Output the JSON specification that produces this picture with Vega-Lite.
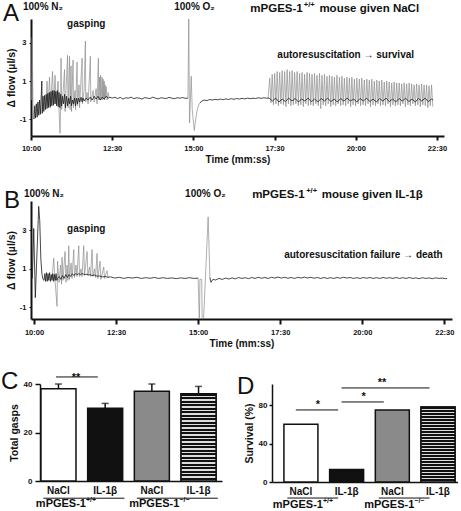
{
"$schema":"https://vega.github.io/schema/vega-lite/v6.json",
"background":"white",
"padding":{"left":1,"top":1,"right":0,"bottom":0},
"bounds":"flush",
"spacing":65,
"config":{
 "font":"Liberation Sans",
 "view":{"stroke":null},
 "axis":{"labelFont":"Liberation Sans","titleFont":"Liberation Sans","labelFontWeight":"bold","titleFontWeight":"bold","labelColor":"#111","titleColor":"#111","domainColor":"#111","tickColor":"#111","grid":false,"labelFlush":false,"labelOverlap":false},
 "text":{"font":"Liberation Sans","color":"#111"},
 "title":{"font":"Liberation Sans","color":"#111"}
},
"datasets":{
 "A_dark":[
  {"t":605.5,"v":-1.0,"s":"d1"},{"t":607.0,"v":-0.3,"s":"d1"},{"t":608.4,"v":-0.95,"s":"d1"},{"t":609.9,"v":-0.2,"s":"d1"},{"t":611.4,"v":-0.9,"s":"d1"},{"t":612.8,"v":-0.1,"s":"d1"},{"t":614.3,"v":-0.8,"s":"d1"},{"t":615.8,"v":0.0,"s":"d1"},{"t":617.3,"v":-0.75,"s":"d1"},{"t":618.7,"v":0.1,"s":"d1"},{"t":620.0,"v":1.0,"s":"d1"},{"t":620.7,"v":-0.7,"s":"d1"},{"t":622.2,"v":0.2,"s":"d1"},{"t":623.7,"v":-0.6,"s":"d1"},{"t":625.2,"v":0.25,"s":"d1"},{"t":626.6,"v":-0.5,"s":"d1"},{"t":628.1,"v":0.3,"s":"d1"},{"t":629.6,"v":-0.45,"s":"d1"},{"t":631.1,"v":0.35,"s":"d1"},{"t":632.6,"v":-0.4,"s":"d1"},{"t":634.0,"v":0.4,"s":"d1"},{"t":635.5,"v":-0.35,"s":"d1"},{"t":637.0,"v":0.45,"s":"d1"},{"t":638.5,"v":-0.3,"s":"d1"},{"t":640.0,"v":0.5,"s":"d1"},{"t":641.4,"v":-0.25,"s":"d1"},{"t":642.9,"v":0.5,"s":"d1"},{"t":644.4,"v":-0.2,"s":"d1"},{"t":645.9,"v":0.45,"s":"d1"},{"t":647.4,"v":-0.3,"s":"d1"},{"t":648.8,"v":0.5,"s":"d1"},{"t":650.3,"v":-0.35,"s":"d1"},{"t":651.8,"v":0.4,"s":"d1"},{"t":653.3,"v":-0.4,"s":"d1"},{"t":654.8,"v":0.3,"s":"d1"},
  {"t":656.5,"v":-0.3,"s":"d1"},{"t":658.3,"v":0.2,"s":"d1"},{"t":660.1,"v":-0.2,"s":"d1"},{"t":662.0,"v":0.3,"s":"d1"},{"t":663.8,"v":-0.4,"s":"d1"},{"t":665.7,"v":0.2,"s":"d1"},{"t":667.5,"v":-0.3,"s":"d1"},{"t":669.4,"v":0.1,"s":"d1"},{"t":671.2,"v":-0.2,"s":"d1"},{"t":673.1,"v":0.2,"s":"d1"},{"t":674.9,"v":-0.3,"s":"d1"},{"t":676.8,"v":0.0,"s":"d1"},{"t":678.6,"v":-0.2,"s":"d1"},{"t":680.5,"v":0.1,"s":"d1"},{"t":682.3,"v":-0.3,"s":"d1"},{"t":684.2,"v":0.1,"s":"d1"},{"t":686.0,"v":-0.2,"s":"d1"},{"t":687.9,"v":0.1,"s":"d1"},{"t":690.0,"v":-0.1,"s":"d1"},{"t":692.5,"v":0.15,"s":"d1"},{"t":694.4,"v":-0.1,"s":"d1"},{"t":696.2,"v":0.1,"s":"d1"},{"t":698.1,"v":-0.05,"s":"d1"},{"t":701.8,"v":0.1,"s":"d1"},{"t":705.5,"v":0.0,"s":"d1"},{"t":709.2,"v":0.15,"s":"d1"},{"t":712.9,"v":0.0,"s":"d1"},{"t":716.6,"v":0.2,"s":"d1"},{"t":720.3,"v":0.05,"s":"d1"},{"t":724.0,"v":0.2,"s":"d1"},{"t":727.7,"v":0.0,"s":"d1"},{"t":731.4,"v":0.15,"s":"d1"},{"t":735.1,"v":0.05,"s":"d1"},{"t":738.8,"v":0.2,"s":"d1"},{"t":742.5,"v":0.1,"s":"d1"},{"t":746,"v":0.15,"s":"d1"},
  {"t":750,"v":0.1,"s":"d1"},{"t":755,"v":0.15,"s":"d1"},{"t":760,"v":0.08,"s":"d1"},{"t":765,"v":0.14,"s":"d1"},{"t":770,"v":0.05,"s":"d1"},{"t":775,"v":0.12,"s":"d1"},{"t":780,"v":0.1,"s":"d1"},{"t":785,"v":0.15,"s":"d1"},{"t":790,"v":0.07,"s":"d1"},{"t":795,"v":0.12,"s":"d1"},{"t":800,"v":0.1,"s":"d1"},{"t":805,"v":0.05,"s":"d1"},{"t":810,"v":0.13,"s":"d1"},{"t":815,"v":0.1,"s":"d1"},{"t":820,"v":0.08,"s":"d1"},{"t":825,"v":0.15,"s":"d1"},{"t":830,"v":0.1,"s":"d1"},{"t":835,"v":0.06,"s":"d1"},{"t":840,"v":0.12,"s":"d1"},{"t":845,"v":0.1,"s":"d1"},{"t":850,"v":0.08,"s":"d1"},{"t":855,"v":0.14,"s":"d1"},{"t":860,"v":0.1,"s":"d1"},{"t":865,"v":0.07,"s":"d1"},{"t":870,"v":0.12,"s":"d1"},{"t":875,"v":0.1,"s":"d1"},{"t":880,"v":0.13,"s":"d1"},{"t":885,"v":0.09,"s":"d1"},{"t":890,"v":0.1,"s":"d1"},
  {"t":912,"v":-0.15,"s":"d2"},{"t":916,"v":-0.05,"s":"d2"},{"t":920,"v":0.0,"s":"d2"},{"t":925,"v":-0.03,"s":"d2"},{"t":930,"v":0.03,"s":"d2"},{"t":935,"v":0.0,"s":"d2"},{"t":940,"v":0.04,"s":"d2"},{"t":945,"v":0.01,"s":"d2"},{"t":950,"v":0.05,"s":"d2"},{"t":955,"v":0.02,"s":"d2"},{"t":960,"v":0.06,"s":"d2"},{"t":965,"v":0.03,"s":"d2"},{"t":970,"v":0.07,"s":"d2"},{"t":975,"v":0.04,"s":"d2"},{"t":980,"v":0.08,"s":"d2"},{"t":985,"v":0.05,"s":"d2"},{"t":990,"v":0.09,"s":"d2"},{"t":995,"v":0.06,"s":"d2"},{"t":1000,"v":0.1,"s":"d2"},{"t":1005,"v":0.07,"s":"d2"},{"t":1010,"v":0.1,"s":"d2"},{"t":1015,"v":0.08,"s":"d2"},{"t":1020,"v":0.12,"s":"d2"},{"t":1025,"v":0.09,"s":"d2"},{"t":1030,"v":0.12,"s":"d2"},{"t":1035,"v":0.1,"s":"d2"},{"t":1040,"v":0.1,"s":"d2"},
  {"t":1046,"v":-0.05,"s":"d2"},{"t":1052,"v":0.1,"s":"d2"},{"t":1058,"v":-0.1,"s":"d2"},{"t":1064,"v":0.05,"s":"d2"},{"t":1070,"v":-0.08,"s":"d2"},{"t":1076,"v":0.1,"s":"d2"},{"t":1082,"v":-0.05,"s":"d2"},{"t":1088,"v":0.08,"s":"d2"},{"t":1094,"v":-0.1,"s":"d2"},{"t":1100,"v":0.05,"s":"d2"},{"t":1106,"v":-0.05,"s":"d2"},{"t":1112,"v":0.1,"s":"d2"},{"t":1118,"v":-0.08,"s":"d2"},{"t":1124,"v":0.05,"s":"d2"},{"t":1130,"v":-0.1,"s":"d2"},{"t":1136,"v":0.08,"s":"d2"},{"t":1142,"v":-0.05,"s":"d2"},{"t":1148,"v":0.1,"s":"d2"},{"t":1154,"v":-0.08,"s":"d2"},{"t":1160,"v":0.05,"s":"d2"},{"t":1166,"v":-0.1,"s":"d2"},{"t":1172,"v":0.08,"s":"d2"},{"t":1178,"v":-0.05,"s":"d2"},{"t":1184,"v":0.1,"s":"d2"},{"t":1190,"v":-0.05,"s":"d2"},{"t":1196,"v":0.05,"s":"d2"},{"t":1202,"v":-0.1,"s":"d2"},{"t":1208,"v":0.08,"s":"d2"},{"t":1214,"v":-0.05,"s":"d2"},{"t":1220,"v":0.1,"s":"d2"},{"t":1226,"v":-0.08,"s":"d2"},{"t":1232,"v":0.05,"s":"d2"},{"t":1238,"v":-0.1,"s":"d2"},{"t":1244,"v":0.08,"s":"d2"},{"t":1250,"v":-0.05,"s":"d2"},{"t":1256,"v":0.1,"s":"d2"},{"t":1262,"v":-0.08,"s":"d2"},{"t":1268,"v":0.05,"s":"d2"},{"t":1274,"v":-0.1,"s":"d2"},{"t":1280,"v":0.08,"s":"d2"},{"t":1286,"v":-0.05,"s":"d2"},{"t":1292,"v":0.1,"s":"d2"},{"t":1298,"v":-0.08,"s":"d2"},{"t":1304,"v":0.05,"s":"d2"},{"t":1310,"v":-0.1,"s":"d2"},{"t":1316,"v":0.08,"s":"d2"},{"t":1322,"v":-0.05,"s":"d2"},{"t":1328,"v":0.1,"s":"d2"},{"t":1334,"v":-0.08,"s":"d2"},{"t":1340,"v":0.05,"s":"d2"},{"t":1343,"v":0.0,"s":"d2"}
 ],
 "A_grey":[
  {"t":601.0,"v":0.0,"s":"g0"},{"t":602.3,"v":3.3,"s":"g0"},{"t":603.6,"v":-0.3,"s":"g0"},{"t":605.5,"v":-1.0,"s":"g0"},
  {"t":627.8,"v":0.0,"s":"g1"},{"t":629.6,"v":1.0,"s":"g1"},{"t":631.5,"v":-0.3,"s":"g1"},{"t":634.2,"v":1.2,"s":"g1"},{"t":636.1,"v":-0.4,"s":"g1"},{"t":639.8,"v":1.5,"s":"g1"},{"t":641.6,"v":-0.3,"s":"g1"},{"t":644.4,"v":1.3,"s":"g1"},{"t":646.3,"v":-0.2,"s":"g1"},{"t":650.0,"v":1.0,"s":"g1"},{"t":651.8,"v":-0.5,"s":"g1"},{"t":653.7,"v":-1.75,"s":"g1"},{"t":654.8,"v":0.0,"s":"g1"},{"t":655.5,"v":2.2,"s":"g1"},{"t":656.6,"v":-0.5,"s":"g1"},{"t":659.2,"v":0.4,"s":"g1"},{"t":662.0,"v":1.6,"s":"g1"},{"t":662.9,"v":-0.6,"s":"g1"},{"t":664.8,"v":0.6,"s":"g1"},{"t":667.5,"v":2.35,"s":"g1"},{"t":668.5,"v":-0.4,"s":"g1"},{"t":671.2,"v":2.3,"s":"g1"},{"t":672.2,"v":-0.5,"s":"g1"},{"t":674.0,"v":1.8,"s":"g1"},{"t":674.9,"v":-0.6,"s":"g1"},{"t":677.7,"v":2.1,"s":"g1"},{"t":678.6,"v":-0.4,"s":"g1"},{"t":681.4,"v":0.5,"s":"g1"},{"t":682.3,"v":-0.5,"s":"g1"},{"t":685.1,"v":2.0,"s":"g1"},{"t":686.0,"v":-0.3,"s":"g1"},{"t":688.8,"v":0.8,"s":"g1"},{"t":689.7,"v":-0.4,"s":"g1"},{"t":694.4,"v":2.2,"s":"g1"},{"t":695.1,"v":-0.2,"s":"g1"},{"t":698.1,"v":0.5,"s":"g1"},{"t":700.5,"v":3.1,"s":"g1"},{"t":701.2,"v":-0.1,"s":"g1"},{"t":703.6,"v":0.4,"s":"g1"},{"t":705.5,"v":-0.2,"s":"g1"},{"t":709.7,"v":2.3,"s":"g1"},{"t":710.4,"v":-0.1,"s":"g1"},{"t":714.7,"v":0.5,"s":"g1"},{"t":716.6,"v":-0.1,"s":"g1"},{"t":720.3,"v":0.6,"s":"g1"},{"t":722.1,"v":-0.2,"s":"g1"},{"t":724.5,"v":2.2,"s":"g1"},{"t":725.2,"v":0.0,"s":"g1"},{"t":726.7,"v":1.2,"s":"g1"},{"t":727.7,"v":0.0,"s":"g1"},{"t":728.6,"v":1.3,"s":"g1"},{"t":729.5,"v":0.0,"s":"g1"},{"t":731.4,"v":1.2,"s":"g1"},{"t":732.3,"v":0.0,"s":"g1"},{"t":733.2,"v":1.1,"s":"g1"},{"t":734.1,"v":0.1,"s":"g1"},{"t":735.1,"v":1.0,"s":"g1"},{"t":736.0,"v":0.0,"s":"g1"},{"t":736.9,"v":0.8,"s":"g1"},{"t":737.8,"v":0.1,"s":"g1"},{"t":738.8,"v":0.7,"s":"g1"},{"t":740.6,"v":0.0,"s":"g1"},{"t":742.5,"v":0.4,"s":"g1"},{"t":744.3,"v":0.1,"s":"g1"},
  {"t":890,"v":0.1,"s":"g2"},{"t":891.4,"v":4.3,"s":"g2"},{"t":892.9,"v":-1.2,"s":"g2"},{"t":896,"v":1.25,"s":"g2"},{"t":897.9,"v":-0.5,"s":"g2"},{"t":901.6,"v":-1.6,"s":"g2"},{"t":904.3,"v":-1.0,"s":"g2"},{"t":907.1,"v":-0.5,"s":"g2"},{"t":910.8,"v":-0.2,"s":"g2"},{"t":912,"v":-0.15,"s":"g2"},
  {"t":1038,"v":0.1,"s":"g3"},
  {"t":1041.0,"v":1.15,"s":"g3"},{"t":1043.3,"v":-0.15,"s":"g3"},{"t":1045.6,"v":1.35,"s":"g3"},{"t":1047.9,"v":-0.25,"s":"g3"},{"t":1050.2,"v":1.4,"s":"g3"},{"t":1052.5,"v":-0.2,"s":"g3"},{"t":1054.8,"v":1.5,"s":"g3"},{"t":1057.1,"v":-0.3,"s":"g3"},{"t":1059.4,"v":1.45,"s":"g3"},{"t":1061.7,"v":-0.2,"s":"g3"},{"t":1064.0,"v":1.55,"s":"g3"},{"t":1066.3,"v":-0.25,"s":"g3"},{"t":1068.6,"v":1.5,"s":"g3"},{"t":1070.9,"v":-0.35,"s":"g3"},{"t":1073.2,"v":1.6,"s":"g3"},{"t":1075.5,"v":-0.2,"s":"g3"},{"t":1077.8,"v":1.5,"s":"g3"},{"t":1080.1,"v":-0.3,"s":"g3"},{"t":1082.4,"v":1.55,"s":"g3"},{"t":1084.7,"v":-0.25,"s":"g3"},{"t":1087.0,"v":1.45,"s":"g3"},{"t":1089.3,"v":-0.2,"s":"g3"},{"t":1091.6,"v":1.5,"s":"g3"},{"t":1093.9,"v":-0.3,"s":"g3"},{"t":1096.2,"v":1.4,"s":"g3"},{"t":1098.5,"v":-0.25,"s":"g3"},{"t":1100.8,"v":1.45,"s":"g3"},{"t":1103.1,"v":-0.35,"s":"g3"},{"t":1105.4,"v":1.35,"s":"g3"},{"t":1107.7,"v":-0.2,"s":"g3"},{"t":1110.0,"v":1.45,"s":"g3"},{"t":1112.3,"v":-0.3,"s":"g3"},{"t":1114.6,"v":1.4,"s":"g3"},{"t":1116.9,"v":-0.25,"s":"g3"},{"t":1119.2,"v":1.35,"s":"g3"},{"t":1121.5,"v":-0.3,"s":"g3"},{"t":1123.8,"v":1.4,"s":"g3"},{"t":1126.1,"v":-0.2,"s":"g3"},{"t":1128.4,"v":1.3,"s":"g3"},{"t":1130.7,"v":-0.3,"s":"g3"},{"t":1133.0,"v":1.4,"s":"g3"},{"t":1135.3,"v":-0.45,"s":"g3"},{"t":1137.6,"v":1.3,"s":"g3"},{"t":1139.9,"v":-0.25,"s":"g3"},{"t":1142.2,"v":1.35,"s":"g3"},{"t":1144.5,"v":-0.3,"s":"g3"},{"t":1146.8,"v":1.25,"s":"g3"},{"t":1149.1,"v":-0.2,"s":"g3"},{"t":1151.4,"v":1.3,"s":"g3"},{"t":1153.7,"v":-0.35,"s":"g3"},{"t":1156.0,"v":1.25,"s":"g3"},{"t":1158.3,"v":-0.25,"s":"g3"},{"t":1160.6,"v":1.2,"s":"g3"},{"t":1162.9,"v":-0.3,"s":"g3"},{"t":1165.2,"v":1.3,"s":"g3"},{"t":1167.5,"v":-0.2,"s":"g3"},{"t":1169.8,"v":1.2,"s":"g3"},{"t":1172.1,"v":-0.3,"s":"g3"},{"t":1174.4,"v":1.25,"s":"g3"},{"t":1176.7,"v":-0.25,"s":"g3"},{"t":1179.0,"v":1.15,"s":"g3"},{"t":1181.3,"v":-0.3,"s":"g3"},{"t":1183.6,"v":1.2,"s":"g3"},{"t":1185.9,"v":-0.2,"s":"g3"},{"t":1188.2,"v":1.15,"s":"g3"},{"t":1190.5,"v":-0.35,"s":"g3"},{"t":1192.8,"v":1.2,"s":"g3"},{"t":1195.1,"v":-0.25,"s":"g3"},{"t":1197.4,"v":1.1,"s":"g3"},{"t":1199.7,"v":-0.3,"s":"g3"},{"t":1202.0,"v":1.15,"s":"g3"},{"t":1204.3,"v":-0.2,"s":"g3"},{"t":1206.6,"v":1.1,"s":"g3"},{"t":1208.9,"v":-0.3,"s":"g3"},{"t":1211.2,"v":1.15,"s":"g3"},{"t":1213.5,"v":-0.25,"s":"g3"},{"t":1215.8,"v":1.05,"s":"g3"},{"t":1218.1,"v":-0.3,"s":"g3"},{"t":1220.4,"v":1.1,"s":"g3"},{"t":1222.7,"v":-0.2,"s":"g3"},{"t":1225.0,"v":1.05,"s":"g3"},{"t":1227.3,"v":-0.35,"s":"g3"},{"t":1229.6,"v":1.1,"s":"g3"},{"t":1231.9,"v":-0.25,"s":"g3"},{"t":1234.2,"v":1.0,"s":"g3"},{"t":1236.5,"v":-0.3,"s":"g3"},{"t":1238.8,"v":1.05,"s":"g3"},{"t":1241.1,"v":-0.2,"s":"g3"},{"t":1243.4,"v":1.0,"s":"g3"},{"t":1245.7,"v":-0.3,"s":"g3"},{"t":1248.0,"v":1.05,"s":"g3"},{"t":1250.3,"v":-0.25,"s":"g3"},{"t":1252.6,"v":0.95,"s":"g3"},{"t":1254.9,"v":-0.3,"s":"g3"},{"t":1257.2,"v":1.0,"s":"g3"},{"t":1259.5,"v":-0.2,"s":"g3"},{"t":1261.8,"v":0.95,"s":"g3"},{"t":1264.1,"v":-0.35,"s":"g3"},{"t":1266.4,"v":0.9,"s":"g3"},{"t":1268.7,"v":-0.25,"s":"g3"},{"t":1271.0,"v":0.95,"s":"g3"},{"t":1273.3,"v":-0.3,"s":"g3"},{"t":1275.6,"v":0.9,"s":"g3"},{"t":1277.9,"v":-0.25,"s":"g3"},{"t":1280.2,"v":0.9,"s":"g3"},{"t":1282.5,"v":-0.3,"s":"g3"},{"t":1284.8,"v":0.85,"s":"g3"},{"t":1287.1,"v":-0.2,"s":"g3"},{"t":1289.4,"v":0.9,"s":"g3"},{"t":1291.7,"v":-0.35,"s":"g3"},{"t":1294.0,"v":0.85,"s":"g3"},{"t":1296.3,"v":-0.25,"s":"g3"},{"t":1298.6,"v":0.9,"s":"g3"},{"t":1300.9,"v":-0.3,"s":"g3"},{"t":1303.2,"v":0.85,"s":"g3"},{"t":1305.5,"v":-0.2,"s":"g3"},{"t":1307.8,"v":0.8,"s":"g3"},{"t":1310.1,"v":-0.3,"s":"g3"},{"t":1312.4,"v":0.85,"s":"g3"},{"t":1314.7,"v":-0.25,"s":"g3"},{"t":1317.0,"v":0.8,"s":"g3"},{"t":1319.3,"v":-0.35,"s":"g3"},{"t":1321.6,"v":0.85,"s":"g3"},{"t":1323.9,"v":-0.25,"s":"g3"},{"t":1326.2,"v":0.8,"s":"g3"},{"t":1328.5,"v":-0.3,"s":"g3"},{"t":1330.8,"v":0.8,"s":"g3"},{"t":1333.1,"v":-0.4,"s":"g3"},{"t":1335.4,"v":0.75,"s":"g3"},{"t":1337.7,"v":-0.3,"s":"g3"},{"t":1340.0,"v":0.8,"s":"g3"},{"t":1342.3,"v":-0.35,"s":"g3"}
 ],
 "A_text":[
  {"t":585.2,"v":4.71,"label":"100% N₂","k":"note"},
  {"t":864.6,"v":4.71,"label":"100% O₂","k":"note"},
  {"t":666.6,"v":3.82,"label":"gasping","k":"note"},
  {"t":1055.1,"v":2.19,"label":"autoresuscitation → survival","k":"note"},
  {"t":1005.2,"v":4.63,"label":"mPGES-1","k":"head"},
  {"t":1104.0,"v":4.87,"label":"+/+","k":"sup"},
  {"t":1132.8,"v":4.63,"label":"mouse given NaCl","k":"head"},
  {"t":548.2,"v":4.16,"label":"A","k":"letter"}
 ],
 "B_dark":[
  {"t":597.0,"v":0.5,"s":"d1"},{"t":599.5,"v":3.1,"s":"d1"},{"t":602.4,"v":-0.5,"s":"d1"},{"t":605.0,"v":1.5,"s":"d1"},{"t":608.6,"v":4.25,"s":"d1"},{"t":610.5,"v":3.5,"s":"d1"},{"t":612.5,"v":1.5,"s":"d1"},{"t":614.6,"v":0.7,"s":"d1"},{"t":616.5,"v":0.45,"s":"d1"},{"t":618.3,"v":0.4,"s":"d1"},{"t":619.8,"v":0.75,"s":"d1"},{"t":621.2,"v":0.35,"s":"d1"},{"t":622.7,"v":0.8,"s":"d1"},{"t":624.2,"v":0.35,"s":"d1"},{"t":625.6,"v":0.75,"s":"d1"},{"t":627.1,"v":0.4,"s":"d1"},{"t":628.5,"v":0.8,"s":"d1"},{"t":630.0,"v":0.35,"s":"d1"},{"t":631.5,"v":0.7,"s":"d1"},{"t":632.9,"v":0.4,"s":"d1"},{"t":634.4,"v":0.75,"s":"d1"},{"t":635.9,"v":0.35,"s":"d1"},{"t":637.3,"v":0.7,"s":"d1"},{"t":638.8,"v":0.4,"s":"d1"},{"t":640.3,"v":0.75,"s":"d1"},{"t":641.7,"v":0.4,"s":"d1"},
  {"t":643,"v":0.5,"s":"d1"},{"t":646,"v":0.6,"s":"d1"},{"t":649,"v":0.45,"s":"d1"},{"t":652,"v":0.65,"s":"d1"},{"t":655,"v":0.5,"s":"d1"},{"t":658,"v":0.7,"s":"d1"},{"t":661,"v":0.55,"s":"d1"},{"t":664,"v":0.7,"s":"d1"},{"t":667,"v":0.6,"s":"d1"},{"t":670,"v":0.75,"s":"d1"},{"t":673,"v":0.65,"s":"d1"},{"t":676,"v":0.75,"s":"d1"},{"t":679,"v":0.7,"s":"d1"},{"t":682,"v":0.75,"s":"d1"},{"t":685,"v":0.7,"s":"d1"},{"t":688,"v":0.75,"s":"d1"},{"t":691,"v":0.72,"s":"d1"},{"t":694,"v":0.7,"s":"d1"},{"t":697,"v":0.72,"s":"d1"},{"t":700,"v":0.68,"s":"d1"},{"t":703,"v":0.7,"s":"d1"},{"t":706,"v":0.65,"s":"d1"},{"t":710,"v":0.68,"s":"d1"},{"t":715,"v":0.62,"s":"d1"},{"t":720,"v":0.63,"s":"d1"},{"t":725,"v":0.58,"s":"d1"},{"t":730,"v":0.6,"s":"d1"},{"t":735,"v":0.56,"s":"d1"},{"t":740,"v":0.58,"s":"d1"},{"t":748,"v":0.52,"s":"d1"},{"t":756,"v":0.56,"s":"d1"},{"t":764,"v":0.5,"s":"d1"},{"t":772,"v":0.55,"s":"d1"},{"t":780,"v":0.52,"s":"d1"},{"t":788,"v":0.56,"s":"d1"},{"t":796,"v":0.5,"s":"d1"},{"t":804,"v":0.54,"s":"d1"},{"t":812,"v":0.51,"s":"d1"},{"t":820,"v":0.55,"s":"d1"},{"t":828,"v":0.5,"s":"d1"},{"t":836,"v":0.54,"s":"d1"},{"t":844,"v":0.5,"s":"d1"},{"t":852,"v":0.53,"s":"d1"},{"t":860,"v":0.49,"s":"d1"},{"t":868,"v":0.53,"s":"d1"},{"t":876,"v":0.5,"s":"d1"},{"t":884,"v":0.54,"s":"d1"},{"t":892,"v":0.5,"s":"d1"},{"t":900,"v":0.52,"s":"d1"},
  {"t":921.5,"v":0.55,"s":"d2"},{"t":923.5,"v":0.3,"s":"d2"},{"t":927,"v":0.45,"s":"d2"},{"t":932,"v":0.42,"s":"d2"},{"t":938,"v":0.5,"s":"d2"},{"t":944,"v":0.45,"s":"d2"},{"t":950,"v":0.52,"s":"d2"},{"t":956,"v":0.47,"s":"d2"},{"t":962,"v":0.53,"s":"d2"},{"t":968,"v":0.48,"s":"d2"},{"t":974,"v":0.55,"s":"d2"},{"t":980,"v":0.5,"s":"d2"},{"t":986,"v":0.54,"s":"d2"},{"t":992,"v":0.49,"s":"d2"},{"t":998,"v":0.55,"s":"d2"},{"t":1004,"v":0.5,"s":"d2"},{"t":1010,"v":0.56,"s":"d2"},{"t":1016,"v":0.51,"s":"d2"},{"t":1022,"v":0.55,"s":"d2"},{"t":1028,"v":0.5,"s":"d2"},{"t":1034,"v":0.56,"s":"d2"},{"t":1040,"v":0.52,"s":"d2"},{"t":1046,"v":0.57,"s":"d2"},{"t":1052,"v":0.52,"s":"d2"},{"t":1058,"v":0.56,"s":"d2"},{"t":1064,"v":0.51,"s":"d2"},{"t":1070,"v":0.55,"s":"d2"},{"t":1076,"v":0.5,"s":"d2"},{"t":1082,"v":0.56,"s":"d2"},{"t":1088,"v":0.52,"s":"d2"},{"t":1094,"v":0.57,"s":"d2"},{"t":1100,"v":0.52,"s":"d2"},{"t":1106,"v":0.56,"s":"d2"},{"t":1112,"v":0.51,"s":"d2"},{"t":1118,"v":0.55,"s":"d2"},{"t":1124,"v":0.5,"s":"d2"},{"t":1130,"v":0.55,"s":"d2"},{"t":1136,"v":0.5,"s":"d2"},{"t":1142,"v":0.54,"s":"d2"},{"t":1148,"v":0.5,"s":"d2"},{"t":1154,"v":0.55,"s":"d2"},{"t":1160,"v":0.51,"s":"d2"},{"t":1166,"v":0.56,"s":"d2"},{"t":1172,"v":0.52,"s":"d2"},{"t":1178,"v":0.55,"s":"d2"},{"t":1184,"v":0.5,"s":"d2"},{"t":1190,"v":0.54,"s":"d2"},{"t":1196,"v":0.5,"s":"d2"},{"t":1202,"v":0.55,"s":"d2"},{"t":1208,"v":0.51,"s":"d2"},{"t":1214,"v":0.55,"s":"d2"},{"t":1220,"v":0.5,"s":"d2"},{"t":1226,"v":0.54,"s":"d2"},{"t":1232,"v":0.5,"s":"d2"},{"t":1238,"v":0.55,"s":"d2"},{"t":1244,"v":0.51,"s":"d2"},{"t":1250,"v":0.54,"s":"d2"},{"t":1256,"v":0.5,"s":"d2"},{"t":1262,"v":0.55,"s":"d2"},{"t":1268,"v":0.5,"s":"d2"},{"t":1274,"v":0.54,"s":"d2"},{"t":1280,"v":0.5,"s":"d2"},{"t":1286,"v":0.55,"s":"d2"},{"t":1292,"v":0.5,"s":"d2"},{"t":1298,"v":0.53,"s":"d2"},{"t":1304,"v":0.49,"s":"d2"},{"t":1310,"v":0.54,"s":"d2"},{"t":1316,"v":0.5,"s":"d2"},{"t":1322,"v":0.53,"s":"d2"},{"t":1328,"v":0.49,"s":"d2"},{"t":1334,"v":0.53,"s":"d2"},{"t":1340,"v":0.5,"s":"d2"},{"t":1346,"v":0.52,"s":"d2"},{"t":1352,"v":0.49,"s":"d2"},{"t":1355,"v":0.5,"s":"d2"}
 ],
 "B_grey":[
  {"t":632.9,"v":0.5,"s":"g1"},{"t":636.0,"v":1.55,"s":"g1"},{"t":638.4,"v":0.4,"s":"g1"},{"t":642.1,"v":-0.95,"s":"g1"},{"t":643.0,"v":1.4,"s":"g1"},{"t":645.7,"v":0.3,"s":"g1"},{"t":648.5,"v":1.2,"s":"g1"},{"t":650.3,"v":0.2,"s":"g1"},{"t":651.2,"v":1.6,"s":"g1"},{"t":653.0,"v":0.4,"s":"g1"},{"t":656.7,"v":1.9,"s":"g1"},{"t":658.5,"v":0.3,"s":"g1"},{"t":660.4,"v":1.2,"s":"g1"},{"t":662.2,"v":0.4,"s":"g1"},{"t":663.5,"v":2.2,"s":"g1"},{"t":664.9,"v":0.45,"s":"g1"},{"t":667.7,"v":1.3,"s":"g1"},{"t":669.5,"v":0.5,"s":"g1"},{"t":672.6,"v":2.0,"s":"g1"},{"t":674.1,"v":0.55,"s":"g1"},{"t":676.8,"v":1.2,"s":"g1"},{"t":678.6,"v":0.6,"s":"g1"},{"t":681.8,"v":2.2,"s":"g1"},{"t":683.2,"v":0.6,"s":"g1"},{"t":686.0,"v":1.0,"s":"g1"},{"t":687.8,"v":0.6,"s":"g1"},{"t":690.9,"v":2.2,"s":"g1"},{"t":692.4,"v":0.65,"s":"g1"},{"t":697.0,"v":1.9,"s":"g1"},{"t":698.4,"v":0.65,"s":"g1"},{"t":701.5,"v":1.1,"s":"g1"},{"t":703.3,"v":0.6,"s":"g1"},{"t":706.1,"v":2.0,"s":"g1"},{"t":707.6,"v":0.6,"s":"g1"},{"t":710.7,"v":1.0,"s":"g1"},{"t":712.5,"v":0.55,"s":"g1"},{"t":715.2,"v":1.8,"s":"g1"},{"t":716.7,"v":0.5,"s":"g1"},{"t":720.7,"v":1.4,"s":"g1"},{"t":722.2,"v":0.45,"s":"g1"},{"t":727.5,"v":1.1,"s":"g1"},{"t":728.9,"v":0.5,"s":"g1"},{"t":733.5,"v":0.9,"s":"g1"},{"t":735.3,"v":0.55,"s":"g1"},
  {"t":900,"v":0.52,"s":"g2"},{"t":902.3,"v":-1.9,"s":"g2"},{"t":903.2,"v":0.45,"s":"g2"},{"t":906.5,"v":0.45,"s":"g2"},{"t":907.5,"v":-1.9,"s":"g2"},{"t":909.5,"v":-1.9,"s":"g2"},{"t":918.3,"v":3.7,"s":"g2"},{"t":921.5,"v":0.55,"s":"g2"}
 ],
 "B_text":[
  {"t":581.7,"v":4.74,"label":"100% N₂","k":"note"},
  {"t":876.2,"v":4.74,"label":"100% O₂","k":"note"},
  {"t":660.4,"v":2.94,"label":"gasping","k":"note"},
  {"t":1057.3,"v":1.58,"label":"autoresuscitation failure → death","k":"note"},
  {"t":998.7,"v":4.69,"label":"mPGES-1","k":"head"},
  {"t":1097.5,"v":4.95,"label":"+/+","k":"sup"},
  {"t":1126.0,"v":4.69,"label":"mouse given IL-1β","k":"head"},
  {"t":545.1,"v":4.17,"label":"B","k":"letter"}
 ],
 "gasps":[
  {"group":"WT NaCl","mean":38,"upper":40},
  {"group":"WT IL-1β","mean":30,"upper":32},
  {"group":"KO NaCl","mean":37,"upper":40},
  {"group":"KO IL-1β","mean":36,"upper":39}
 ],
 "gasps_sig":[{"from":"WT NaCl","to":"WT IL-1β","y":42.9,"label":"**"}],
 "survival":[
  {"group":"WT NaCl","pct":60},
  {"group":"WT IL-1β","pct":13},
  {"group":"KO NaCl","pct":75},
  {"group":"KO IL-1β","pct":78}
 ],
 "survival_sig":[
  {"from":"WT NaCl","to":"WT IL-1β","y":75,"label":"*"},
  {"from":"WT IL-1β","to":"KO NaCl","y":83.3,"label":"*"},
  {"from":"WT IL-1β","to":"KO IL-1β","y":97.9,"label":"**","mid":"KO NaCl"}
 ],
 "geno":[
  {"first":"WT NaCl","last":"WT IL-1β","geno":"+/+"},
  {"first":"KO NaCl","last":"KO IL-1β","geno":"−/−"}
 ]
},
"vconcat":[
 {
  "width":413,"height":117,
  "layer":[
   {"data":{"name":"A_grey"},"mark":{"type":"line","color":"#8c8c8c","strokeWidth":0.7,"clip":true},
    "encoding":{
     "x":{"field":"t","type":"quantitative","scale":{"domain":[600,1363],"nice":false,"zero":false},
      "axis":{"title":"Time (mm:ss)","values":[600,750,900,1050,1200,1350],"labelExpr":"floor(datum.value/60) + ':' + (datum.value % 60 == 0 ? '00' : '30')","labelFontSize":7.5,"titleFontSize":10,"tickSize":4,"tickWidth":2,"domainWidth":2,"labelPadding":4,"titlePadding":3}},
     "y":{"field":"v","type":"quantitative","scale":{"domain":[-1.89,4.26],"nice":false,"zero":false},
      "axis":{"title":"Δ flow (µl/s)","values":[-1,0,1,2,3,4],"labelExpr":"replace(datum.label, '−', '-')","labelFontSize":7.5,"titleFontSize":10.5,"tickSize":2,"domainWidth":2,"labelPadding":3,"titlePadding":3}},
     "detail":{"field":"s","type":"nominal"}}},
   {"data":{"name":"A_dark"},"mark":{"type":"line","color":"#1a1a1a","strokeWidth":0.8,"clip":true},
    "encoding":{"x":{"field":"t","type":"quantitative"},"y":{"field":"v","type":"quantitative"},"detail":{"field":"s","type":"nominal"}}},
   {"data":{"name":"A_text"},"transform":[{"filter":"datum.k == 'note'"}],"mark":{"type":"text","align":"left","baseline":"alphabetic","fontSize":10,"fontWeight":"bold"},
    "encoding":{"x":{"field":"t","type":"quantitative"},"y":{"field":"v","type":"quantitative"},"text":{"field":"label"}}},
   {"data":{"name":"A_text"},"transform":[{"filter":"datum.k == 'head'"}],"mark":{"type":"text","align":"left","baseline":"alphabetic","fontSize":11.5,"fontWeight":"bold"},
    "encoding":{"x":{"field":"t","type":"quantitative"},"y":{"field":"v","type":"quantitative"},"text":{"field":"label"}}},
   {"data":{"name":"A_text"},"transform":[{"filter":"datum.k == 'sup'"}],"mark":{"type":"text","align":"left","baseline":"alphabetic","fontSize":7.5,"fontWeight":"bold"},
    "encoding":{"x":{"field":"t","type":"quantitative"},"y":{"field":"v","type":"quantitative"},"text":{"field":"label"}}},
   {"data":{"name":"A_text"},"transform":[{"filter":"datum.k == 'letter'"}],"mark":{"type":"text","align":"left","baseline":"alphabetic","fontSize":24,"fontWeight":"normal"},
    "encoding":{"x":{"field":"t","type":"quantitative"},"y":{"field":"v","type":"quantitative"},"text":{"field":"label"}}}
  ]
 },
 {
  "width":421,"height":118,
  "layer":[
   {"data":{"name":"B_grey"},"mark":{"type":"line","color":"#8c8c8c","strokeWidth":0.7,"clip":true},
    "encoding":{
     "x":{"field":"t","type":"quantitative","scale":{"domain":[594.5,1364],"nice":false,"zero":false},
      "axis":{"title":"Time (mm:ss)","values":[600,750,900,1050,1200,1350],"labelExpr":"floor(datum.value/60) + ':' + (datum.value % 60 == 0 ? '00' : '30')","labelFontSize":7.5,"titleFontSize":10,"tickSize":5,"tickWidth":2,"domainWidth":2,"labelPadding":4,"titlePadding":3}},
     "y":{"field":"v","type":"quantitative","scale":{"domain":[-1.61,4.53],"nice":false,"zero":false},
      "axis":{"title":"Δ flow (µl/s)","values":[-1,0,1,2,3,4],"labelExpr":"replace(datum.label, '−', '-')","labelFontSize":7.5,"titleFontSize":10.5,"tickSize":2,"domainWidth":2,"labelPadding":3,"titlePadding":3}},
     "detail":{"field":"s","type":"nominal"}}},
   {"data":{"name":"B_dark"},"mark":{"type":"line","color":"#1a1a1a","strokeWidth":0.8,"clip":true},
    "encoding":{"x":{"field":"t","type":"quantitative"},"y":{"field":"v","type":"quantitative"},"detail":{"field":"s","type":"nominal"}}},
   {"data":{"name":"B_text"},"transform":[{"filter":"datum.k == 'note'"}],"mark":{"type":"text","align":"left","baseline":"alphabetic","fontSize":10,"fontWeight":"bold"},
    "encoding":{"x":{"field":"t","type":"quantitative"},"y":{"field":"v","type":"quantitative"},"text":{"field":"label"}}},
   {"data":{"name":"B_text"},"transform":[{"filter":"datum.k == 'head'"}],"mark":{"type":"text","align":"left","baseline":"alphabetic","fontSize":11.5,"fontWeight":"bold"},
    "encoding":{"x":{"field":"t","type":"quantitative"},"y":{"field":"v","type":"quantitative"},"text":{"field":"label"}}},
   {"data":{"name":"B_text"},"transform":[{"filter":"datum.k == 'sup'"}],"mark":{"type":"text","align":"left","baseline":"alphabetic","fontSize":7.5,"fontWeight":"bold"},
    "encoding":{"x":{"field":"t","type":"quantitative"},"y":{"field":"v","type":"quantitative"},"text":{"field":"label"}}},
   {"data":{"name":"B_text"},"transform":[{"filter":"datum.k == 'letter'"}],"mark":{"type":"text","align":"left","baseline":"alphabetic","fontSize":24,"fontWeight":"normal"},
    "encoding":{"x":{"field":"t","type":"quantitative"},"y":{"field":"v","type":"quantitative"},"text":{"field":"label"}}}
  ]
 },
 {
  "bounds":"flush",
  "spacing":50,
  "hconcat":[
   {
    "width":191,"height":97,
    "title":{"text":"C","anchor":"start","frame":"group","offset":0,"baseline":"alphabetic","dx":-30,"dy":41,"fontSize":24,"fontWeight":"normal"},
    "layer":[
     {"data":{"name":"gasps"},"mark":{"type":"bar","stroke":"#111","strokeWidth":1.5},
      "encoding":{
       "x":{"field":"group","type":"nominal","sort":null,"scale":{"domain":["WT NaCl","WT IL-1β","KO NaCl","KO IL-1β"],"range":[9,191],"paddingInner":0.25,"paddingOuter":0.074,"align":0.14},
        "axis":{"title":null,"labelExpr":"split(datum.value, ' ')[1]","labelAngle":0,"labelFontSize":10,"ticks":false,"tickSize":0,"domainWidth":1.5,"labelPadding":4}},
       "y":{"field":"mean","type":"quantitative","scale":{"domain":[0,40],"nice":false},
        "axis":{"title":"Total gasps","values":[0,10,20,30,40],"labelFontSize":8,"titleFontSize":10.5,"tickSize":5,"tickWidth":1.5,"domainWidth":1.5,"labelPadding":3,"titlePadding":4,"offset":-9}},
       "fill":{"field":"group","type":"nominal","scale":{"domain":["WT NaCl","WT IL-1β","KO NaCl","KO IL-1β"],"range":["#ffffff","#111111","#8a8a8a","#111111"]},"legend":null}}},
     {"data":{"name":"gasps"},"transform":[{"filter":"datum.group == 'KO IL-1β'"}],
      "mark":{"type":"bar","stroke":"#111","strokeWidth":1.5,"fill":{"gradient":"linear","x1":0,"y1":0,"x2":0,"y2":1,"stops":[
       {"offset":0,"color":"#111"},{"offset":0.026,"color":"#111"},{"offset":0.026,"color":"#ddd"},{"offset":0.04,"color":"#ddd"},
       {"offset":0.04,"color":"#111"},{"offset":0.066,"color":"#111"},{"offset":0.066,"color":"#ddd"},{"offset":0.08,"color":"#ddd"},
       {"offset":0.08,"color":"#111"},{"offset":0.106,"color":"#111"},{"offset":0.106,"color":"#ddd"},{"offset":0.12,"color":"#ddd"},
       {"offset":0.12,"color":"#111"},{"offset":0.146,"color":"#111"},{"offset":0.146,"color":"#ddd"},{"offset":0.16,"color":"#ddd"},
       {"offset":0.16,"color":"#111"},{"offset":0.186,"color":"#111"},{"offset":0.186,"color":"#ddd"},{"offset":0.2,"color":"#ddd"},
       {"offset":0.2,"color":"#111"},{"offset":0.226,"color":"#111"},{"offset":0.226,"color":"#ddd"},{"offset":0.24,"color":"#ddd"},
       {"offset":0.24,"color":"#111"},{"offset":0.266,"color":"#111"},{"offset":0.266,"color":"#ddd"},{"offset":0.28,"color":"#ddd"},
       {"offset":0.28,"color":"#111"},{"offset":0.306,"color":"#111"},{"offset":0.306,"color":"#ddd"},{"offset":0.32,"color":"#ddd"},
       {"offset":0.32,"color":"#111"},{"offset":0.346,"color":"#111"},{"offset":0.346,"color":"#ddd"},{"offset":0.36,"color":"#ddd"},
       {"offset":0.36,"color":"#111"},{"offset":0.386,"color":"#111"},{"offset":0.386,"color":"#ddd"},{"offset":0.4,"color":"#ddd"},
       {"offset":0.4,"color":"#111"},{"offset":0.426,"color":"#111"},{"offset":0.426,"color":"#ddd"},{"offset":0.44,"color":"#ddd"},
       {"offset":0.44,"color":"#111"},{"offset":0.466,"color":"#111"},{"offset":0.466,"color":"#ddd"},{"offset":0.48,"color":"#ddd"},
       {"offset":0.48,"color":"#111"},{"offset":0.506,"color":"#111"},{"offset":0.506,"color":"#ddd"},{"offset":0.52,"color":"#ddd"},
       {"offset":0.52,"color":"#111"},{"offset":0.546,"color":"#111"},{"offset":0.546,"color":"#ddd"},{"offset":0.56,"color":"#ddd"},
       {"offset":0.56,"color":"#111"},{"offset":0.586,"color":"#111"},{"offset":0.586,"color":"#ddd"},{"offset":0.6,"color":"#ddd"},
       {"offset":0.6,"color":"#111"},{"offset":0.626,"color":"#111"},{"offset":0.626,"color":"#ddd"},{"offset":0.64,"color":"#ddd"},
       {"offset":0.64,"color":"#111"},{"offset":0.666,"color":"#111"},{"offset":0.666,"color":"#ddd"},{"offset":0.68,"color":"#ddd"},
       {"offset":0.68,"color":"#111"},{"offset":0.706,"color":"#111"},{"offset":0.706,"color":"#ddd"},{"offset":0.72,"color":"#ddd"},
       {"offset":0.72,"color":"#111"},{"offset":0.746,"color":"#111"},{"offset":0.746,"color":"#ddd"},{"offset":0.76,"color":"#ddd"},
       {"offset":0.76,"color":"#111"},{"offset":0.786,"color":"#111"},{"offset":0.786,"color":"#ddd"},{"offset":0.8,"color":"#ddd"},
       {"offset":0.8,"color":"#111"},{"offset":0.826,"color":"#111"},{"offset":0.826,"color":"#ddd"},{"offset":0.84,"color":"#ddd"},
       {"offset":0.84,"color":"#111"},{"offset":0.866,"color":"#111"},{"offset":0.866,"color":"#ddd"},{"offset":0.88,"color":"#ddd"},
       {"offset":0.88,"color":"#111"},{"offset":0.906,"color":"#111"},{"offset":0.906,"color":"#ddd"},{"offset":0.92,"color":"#ddd"},
       {"offset":0.92,"color":"#111"},{"offset":0.946,"color":"#111"},{"offset":0.946,"color":"#ddd"},{"offset":0.96,"color":"#ddd"},
       {"offset":0.96,"color":"#111"},{"offset":0.986,"color":"#111"},{"offset":0.986,"color":"#ddd"},{"offset":1,"color":"#ddd"}]}},
      "encoding":{"x":{"field":"group","type":"nominal"},"y":{"field":"mean","type":"quantitative"}}},
     {"data":{"name":"gasps"},"mark":{"type":"rule","color":"#111","strokeWidth":1.5},
      "encoding":{"x":{"field":"group","type":"nominal"},"y":{"field":"mean","type":"quantitative"},"y2":{"field":"upper"}}},
     {"data":{"name":"gasps"},"mark":{"type":"tick","color":"#111","thickness":1.5,"size":7,"orient":"horizontal"},
      "encoding":{"x":{"field":"group","type":"nominal"},"y":{"field":"upper","type":"quantitative"}}},
     {"data":{"name":"gasps_sig"},"mark":{"type":"rule","color":"#111","strokeWidth":1},
      "encoding":{"x":{"field":"from","type":"nominal","bandPosition":0.43},"x2":{"field":"to","bandPosition":0.29},"y":{"field":"y","type":"quantitative"}}},
     {"data":{"name":"gasps_sig"},"mark":{"type":"text","fontSize":11,"fontWeight":"bold","align":"center","baseline":"alphabetic","dy":4},
      "encoding":{"x":{"field":"from","type":"nominal","bandPosition":1},"y":{"field":"y","type":"quantitative"},"text":{"field":"label"}}},
     {"data":{"name":"geno"},"mark":{"type":"rule","color":"#111","strokeWidth":1},
      "encoding":{"x":{"field":"first","type":"nominal","bandPosition":0.07},"x2":{"field":"last","bandPosition":1.05},"y":{"datum":-7.1}}},
     {"data":{"name":"geno"},"mark":{"type":"text","text":"mPGES-1","fontSize":11,"fontWeight":"bold","align":"right","baseline":"alphabetic","dx":10},
      "encoding":{"x":{"field":"first","type":"nominal","bandPosition":1},"y":{"datum":-10.8}}},
     {"data":{"name":"geno"},"mark":{"type":"text","fontSize":7,"fontWeight":"bold","align":"left","baseline":"alphabetic","dx":10,"dy":-5.5},
      "encoding":{"x":{"field":"first","type":"nominal","bandPosition":1},"y":{"datum":-10.8},"text":{"field":"geno"}}}
    ]
   },
   {
    "width":186,"height":98,
    "title":{"text":"D","anchor":"start","frame":"group","offset":0,"baseline":"alphabetic","dx":-35,"dy":41,"fontSize":24,"fontWeight":"normal"},
    "layer":[
     {"data":{"name":"survival"},"mark":{"type":"bar","stroke":"#111","strokeWidth":1.5},
      "encoding":{
       "x":{"field":"group","type":"nominal","sort":null,"scale":{"domain":["WT NaCl","WT IL-1β","KO NaCl","KO IL-1β"],"paddingInner":0.256,"paddingOuter":0.163,"align":0.8},
        "axis":{"title":null,"labelExpr":"split(datum.value, ' ')[1]","labelAngle":0,"labelFontSize":10,"ticks":false,"tickSize":0,"domainWidth":1.5,"labelPadding":4}},
       "y":{"field":"pct","type":"quantitative","scale":{"domain":[0,102],"nice":false},
        "axis":{"title":"Survival (%)","values":[0,20,40,60,80,100],"labelFontSize":8,"titleFontSize":10.5,"tickSize":3,"tickWidth":1.5,"domainWidth":1.5,"labelPadding":2,"titlePadding":4}},
       "fill":{"field":"group","type":"nominal","scale":{"domain":["WT NaCl","WT IL-1β","KO NaCl","KO IL-1β"],"range":["#ffffff","#111111","#8a8a8a","#111111"]},"legend":null}}},
     {"data":{"name":"survival"},"transform":[{"filter":"datum.group == 'KO IL-1β'"}],
      "mark":{"type":"bar","stroke":"#111","strokeWidth":1.5,"fill":{"gradient":"linear","x1":0,"y1":0,"x2":0,"y2":1,"stops":[
       {"offset":0,"color":"#111"},{"offset":0.026,"color":"#111"},{"offset":0.026,"color":"#ddd"},{"offset":0.04,"color":"#ddd"},
       {"offset":0.04,"color":"#111"},{"offset":0.066,"color":"#111"},{"offset":0.066,"color":"#ddd"},{"offset":0.08,"color":"#ddd"},
       {"offset":0.08,"color":"#111"},{"offset":0.106,"color":"#111"},{"offset":0.106,"color":"#ddd"},{"offset":0.12,"color":"#ddd"},
       {"offset":0.12,"color":"#111"},{"offset":0.146,"color":"#111"},{"offset":0.146,"color":"#ddd"},{"offset":0.16,"color":"#ddd"},
       {"offset":0.16,"color":"#111"},{"offset":0.186,"color":"#111"},{"offset":0.186,"color":"#ddd"},{"offset":0.2,"color":"#ddd"},
       {"offset":0.2,"color":"#111"},{"offset":0.226,"color":"#111"},{"offset":0.226,"color":"#ddd"},{"offset":0.24,"color":"#ddd"},
       {"offset":0.24,"color":"#111"},{"offset":0.266,"color":"#111"},{"offset":0.266,"color":"#ddd"},{"offset":0.28,"color":"#ddd"},
       {"offset":0.28,"color":"#111"},{"offset":0.306,"color":"#111"},{"offset":0.306,"color":"#ddd"},{"offset":0.32,"color":"#ddd"},
       {"offset":0.32,"color":"#111"},{"offset":0.346,"color":"#111"},{"offset":0.346,"color":"#ddd"},{"offset":0.36,"color":"#ddd"},
       {"offset":0.36,"color":"#111"},{"offset":0.386,"color":"#111"},{"offset":0.386,"color":"#ddd"},{"offset":0.4,"color":"#ddd"},
       {"offset":0.4,"color":"#111"},{"offset":0.426,"color":"#111"},{"offset":0.426,"color":"#ddd"},{"offset":0.44,"color":"#ddd"},
       {"offset":0.44,"color":"#111"},{"offset":0.466,"color":"#111"},{"offset":0.466,"color":"#ddd"},{"offset":0.48,"color":"#ddd"},
       {"offset":0.48,"color":"#111"},{"offset":0.506,"color":"#111"},{"offset":0.506,"color":"#ddd"},{"offset":0.52,"color":"#ddd"},
       {"offset":0.52,"color":"#111"},{"offset":0.546,"color":"#111"},{"offset":0.546,"color":"#ddd"},{"offset":0.56,"color":"#ddd"},
       {"offset":0.56,"color":"#111"},{"offset":0.586,"color":"#111"},{"offset":0.586,"color":"#ddd"},{"offset":0.6,"color":"#ddd"},
       {"offset":0.6,"color":"#111"},{"offset":0.626,"color":"#111"},{"offset":0.626,"color":"#ddd"},{"offset":0.64,"color":"#ddd"},
       {"offset":0.64,"color":"#111"},{"offset":0.666,"color":"#111"},{"offset":0.666,"color":"#ddd"},{"offset":0.68,"color":"#ddd"},
       {"offset":0.68,"color":"#111"},{"offset":0.706,"color":"#111"},{"offset":0.706,"color":"#ddd"},{"offset":0.72,"color":"#ddd"},
       {"offset":0.72,"color":"#111"},{"offset":0.746,"color":"#111"},{"offset":0.746,"color":"#ddd"},{"offset":0.76,"color":"#ddd"},
       {"offset":0.76,"color":"#111"},{"offset":0.786,"color":"#111"},{"offset":0.786,"color":"#ddd"},{"offset":0.8,"color":"#ddd"},
       {"offset":0.8,"color":"#111"},{"offset":0.826,"color":"#111"},{"offset":0.826,"color":"#ddd"},{"offset":0.84,"color":"#ddd"},
       {"offset":0.84,"color":"#111"},{"offset":0.866,"color":"#111"},{"offset":0.866,"color":"#ddd"},{"offset":0.88,"color":"#ddd"},
       {"offset":0.88,"color":"#111"},{"offset":0.906,"color":"#111"},{"offset":0.906,"color":"#ddd"},{"offset":0.92,"color":"#ddd"},
       {"offset":0.92,"color":"#111"},{"offset":0.946,"color":"#111"},{"offset":0.946,"color":"#ddd"},{"offset":0.96,"color":"#ddd"},
       {"offset":0.96,"color":"#111"},{"offset":0.986,"color":"#111"},{"offset":0.986,"color":"#ddd"},{"offset":1,"color":"#ddd"}]}},
      "encoding":{"x":{"field":"group","type":"nominal"},"y":{"field":"pct","type":"quantitative"}}},
     {"data":{"name":"survival_sig"},"mark":{"type":"rule","color":"#111","strokeWidth":1},
      "encoding":{"x":{"field":"from","type":"nominal","bandPosition":0.35},"x2":{"field":"to","bandPosition":0.25},"y":{"field":"y","type":"quantitative"}}},
     {"data":{"name":"survival_sig"},"transform":[{"filter":"datum.label == '*'"}],"mark":{"type":"text","fontSize":11,"fontWeight":"bold","align":"center","baseline":"alphabetic","dy":-1.5},
      "encoding":{"x":{"field":"from","type":"nominal","bandPosition":1},"y":{"field":"y","type":"quantitative"},"text":{"field":"label"}}},
     {"data":{"name":"survival_sig"},"transform":[{"filter":"datum.label == '**'"}],"mark":{"type":"text","fontSize":11,"fontWeight":"bold","align":"center","baseline":"alphabetic","dy":-1.5},
      "encoding":{"x":{"field":"mid","type":"nominal","bandPosition":0.2},"y":{"field":"y","type":"quantitative"},"text":{"field":"label"}}},
     {"data":{"name":"geno"},"mark":{"type":"rule","color":"#111","strokeWidth":1},
      "encoding":{"x":{"field":"first","type":"nominal","bandPosition":0.1},"x2":{"field":"last","bandPosition":0.25},"y":{"datum":-16.7}}},
     {"data":{"name":"geno"},"mark":{"type":"text","text":"mPGES-1","fontSize":11,"fontWeight":"bold","align":"right","baseline":"alphabetic","dx":5},
      "encoding":{"x":{"field":"first","type":"nominal","bandPosition":1},"y":{"datum":-27.1}}},
     {"data":{"name":"geno"},"mark":{"type":"text","fontSize":7,"fontWeight":"bold","align":"left","baseline":"alphabetic","dx":5,"dy":-5.5},
      "encoding":{"x":{"field":"first","type":"nominal","bandPosition":1},"y":{"datum":-27.1},"text":{"field":"geno"}}}
    ]
   }
  ]
 }
]
}
